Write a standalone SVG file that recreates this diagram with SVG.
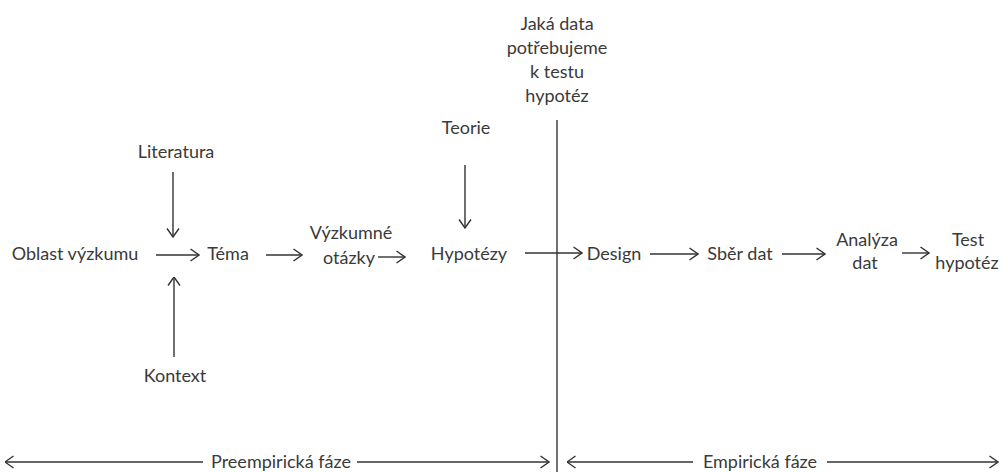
<svg xmlns="http://www.w3.org/2000/svg" width="1003" height="472" viewBox="0 0 1003 472">
<style>
text{font-family:Lato,"Open Sans","Liberation Sans",sans-serif;font-size:18px;fill:#3a3a3a;text-anchor:middle}
.c{stroke:#333;stroke-width:1.4;fill:none}
</style>
<defs>
<marker id="ah" viewBox="0 0 10 14" refX="9.5" refY="7" markerWidth="10" markerHeight="14" markerUnits="userSpaceOnUse" orient="auto-start-reverse">
<path d="M1,1 L9.5,7 L1,13" fill="none" stroke="#333" stroke-width="1.4"/>
</marker>
</defs>
<rect width="1003" height="472" fill="#fff"/>
<g id="n-oblast"><text x="75" y="260">Oblast výzkumu</text></g>
<g id="n-tema"><text x="228" y="260">Téma</text></g>
<g id="n-otazky"><text x="351" y="239">Výzkumné</text><text x="349" y="264">otázky</text></g>
<g id="n-hypotezy"><text x="469" y="260">Hypotézy</text></g>
<g id="n-design"><text x="614" y="260">Design</text></g>
<g id="n-sber"><text x="740" y="260">Sběr dat</text></g>
<g id="n-analyza"><text x="867" y="246">Analýza</text><text x="865" y="269">dat</text></g>
<g id="n-test"><text x="968" y="246">Test</text><text x="967" y="269">hypotéz</text></g>
<g id="n-literatura"><text x="176" y="158">Literatura</text></g>
<g id="n-kontext"><text x="175" y="382">Kontext</text></g>
<g id="n-teorie"><text x="466" y="134">Teorie</text></g>
<g id="n-jaka"><text x="557" y="30">Jaká data</text><text x="557" y="54">potřebujeme</text><text x="557" y="78">k testu</text><text x="557" y="102">hypotéz</text></g>
<g id="n-preemp"><text x="281" y="468">Preempirická fáze</text></g>
<g id="n-emp"><text x="760" y="468">Empirická fáze</text></g>
<g id="connectors">
<line class="c" x1="557" y1="120" x2="557" y2="472" stroke-width="1.6"/>
<line class="c" x1="156" y1="255" x2="199" y2="255" marker-end="url(#ah)"/>
<line class="c" x1="266" y1="255" x2="302" y2="255" marker-end="url(#ah)"/>
<line class="c" x1="378" y1="257" x2="405" y2="257" marker-end="url(#ah)"/>
<line class="c" x1="525" y1="253" x2="582" y2="253" marker-end="url(#ah)"/>
<line class="c" x1="650" y1="254" x2="698" y2="254" marker-end="url(#ah)"/>
<line class="c" x1="782" y1="254" x2="825" y2="254" marker-end="url(#ah)"/>
<line class="c" x1="902" y1="253" x2="929" y2="253" marker-end="url(#ah)"/>
<line class="c" x1="173" y1="172" x2="173" y2="237" marker-end="url(#ah)"/>
<line class="c" x1="174" y1="357" x2="174" y2="277" marker-end="url(#ah)"/>
<line class="c" x1="465" y1="165" x2="465" y2="228" marker-end="url(#ah)"/>
<line class="c" x1="5" y1="462" x2="203" y2="462" marker-start="url(#ah)"/>
<line class="c" x1="357" y1="462" x2="549" y2="462" marker-end="url(#ah)"/>
<line class="c" x1="567" y1="462" x2="693" y2="462" marker-start="url(#ah)"/>
<line class="c" x1="827" y1="462" x2="998" y2="462" marker-end="url(#ah)"/>
</g>
</svg>
